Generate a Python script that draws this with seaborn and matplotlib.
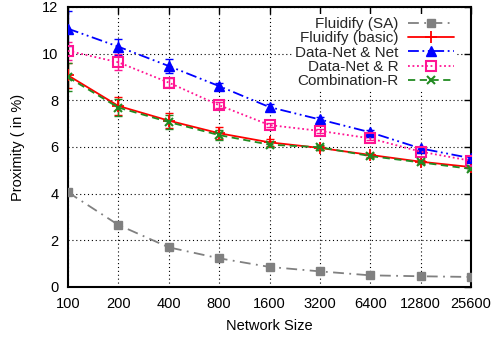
import matplotlib
matplotlib.use("Agg")
import matplotlib.pyplot as plt
import seaborn as sns
import numpy as np
import pandas as pd
from matplotlib.lines import Line2D

sizes = [100, 200, 400, 800, 1600, 3200, 6400, 12800, 25600]
tick_labels = ["100", "200", "400", "800", "1600", "3200", "6400", "12800", "25600"]

fluidify_sa = [4.06, 2.66, 1.70, 1.23, 0.86, 0.67, 0.50, 0.46, 0.43]
fluidify_sa_err = [0.12, 0.10, 0.06, 0.05, 0.04, 0.03, 0.03, 0.02, 0.02]
fluidify_basic = [9.07, 7.76, 7.13, 6.59, 6.20, 5.96, 5.66, 5.37, 5.14]
fluidify_basic_err = [0.55, 0.40, 0.33, 0.25, 0.15, 0.10, 0.08, 0.07, 0.06]
datanet_net = [11.07, 10.30, 9.47, 8.61, 7.71, 7.18, 6.63, 5.94, 5.52]
datanet_net_err = [0.75, 0.35, 0.30, 0.15, 0.12, 0.10, 0.08, 0.08, 0.07]
datanet_r = [10.12, 9.63, 8.76, 7.79, 6.94, 6.69, 6.37, 5.80, 5.41]
datanet_r_err = [0.40, 0.35, 0.20, 0.12, 0.10, 0.08, 0.08, 0.07, 0.07]
combination_r = [8.99, 7.69, 7.07, 6.51, 6.10, 5.99, 5.61, 5.34, 5.06]
combination_r_err = [0.60, 0.35, 0.30, 0.20, 0.12, 0.10, 0.08, 0.07, 0.06]

series_names = ["Fluidify (SA)", "Fluidify (basic)", "Data-Net & Net",
                "Data-Net & R", "Combination-R"]
series_vals = [fluidify_sa, fluidify_basic, datanet_net, datanet_r, combination_r]
series_errs = [fluidify_sa_err, fluidify_basic_err, datanet_net_err,
               datanet_r_err, combination_r_err]

styles = [
    dict(color="#808080", ls=(0, (6, 3, 1, 3)), marker="s", mfc="#808080", ms=5.5, mew=1),
    dict(color="#ff0000", ls="-", marker="+", mfc="none", ms=8, mew=1.3),
    dict(color="#0000ff", ls=(0, (6, 2, 1, 2, 1, 2)), marker="^", mfc="#0000ff", ms=6.5, mew=1),
    dict(color="#ff1493", ls=(0, (1, 1.5)), marker="s", mfc="none", ms=6.5, mew=1.5),
    dict(color="#228b22", ls=(0, (4, 2.5)), marker="x", mfc="none", ms=6, mew=1.5),
]

sns.set_theme(style="white")
plt.rcParams["font.family"] = ["Liberation Sans", "DejaVu Sans"]

fig = plt.figure(figsize=(4.93, 3.38), dpi=100)
ax = fig.add_axes([68 / 493, 51 / 338, 403 / 493, 280 / 338])

handles = []
for name, vals, errs, st in zip(series_names, series_vals, series_errs, styles):
    df = pd.DataFrame({"size": sizes, "value": vals})
    sns.lineplot(data=df, x="size", y="value", ax=ax, color=st["color"],
                 marker=st["marker"], markersize=st["ms"],
                 markerfacecolor=st["mfc"], markeredgecolor=st["color"],
                 markeredgewidth=st["mew"], linewidth=1.3, linestyle="-",
                 legend=False, zorder=3)
    ln = ax.lines[-1]
    ln.set_linestyle(st["ls"])
    eb = ax.errorbar(sizes, vals, yerr=errs, fmt="none", ecolor=st["color"],
                     elinewidth=1.0, capsize=3, capthick=1.0, zorder=2)
    handles.append(Line2D([0], [0], color=st["color"], linestyle=st["ls"],
                          linewidth=1.3, marker=st["marker"], markersize=st["ms"],
                          markerfacecolor=st["mfc"], markeredgecolor=st["color"],
                          markeredgewidth=st["mew"]))

ax.set_xscale("log", base=2)
ax.set_xlim(100, 25600)
ax.set_ylim(0, 12)
ax.set_xticks(sizes)
ax.set_xticklabels(tick_labels)
ax.xaxis.set_minor_locator(matplotlib.ticker.NullLocator())
ax.set_yticks([0, 2, 4, 6, 8, 10, 12])
ax.set_yticklabels(["0", "2", "4", "6", "8", "10", "12"])

ax.grid(True, which="major", color="black", linestyle=(0, (1, 2.5)), linewidth=0.8)
ax.set_axisbelow(True)
ax.tick_params(axis="both", which="major", direction="in", length=5, width=1,
               top=True, right=True, labelsize=10.5, colors="black")
ax.tick_params(axis="x", pad=7)
ax.tick_params(axis="y", pad=7)
for sp in ax.spines.values():
    sp.set_color("black")
    sp.set_linewidth(1.5)

ax.set_xlabel("Network Size", fontsize=10.5, color="black", labelpad=6)
ax.set_ylabel("Proximity ( in %)", fontsize=10.5, color="black", labelpad=12)

leg = ax.legend(handles, series_names, loc="upper right",
                bbox_to_anchor=(0.965, 0.975), markerfirst=False, frameon=True,
                fontsize=11, handlelength=3.0, labelspacing=0.02,
                handletextpad=0.6, borderpad=0.2, borderaxespad=0.0)
leg.get_frame().set_facecolor("white")
leg.get_frame().set_edgecolor("white")
leg.get_frame().set_alpha(1.0)
leg.get_frame().set_linewidth(0)
leg.set_zorder(5)

fig.savefig("out.png", dpi=100)
